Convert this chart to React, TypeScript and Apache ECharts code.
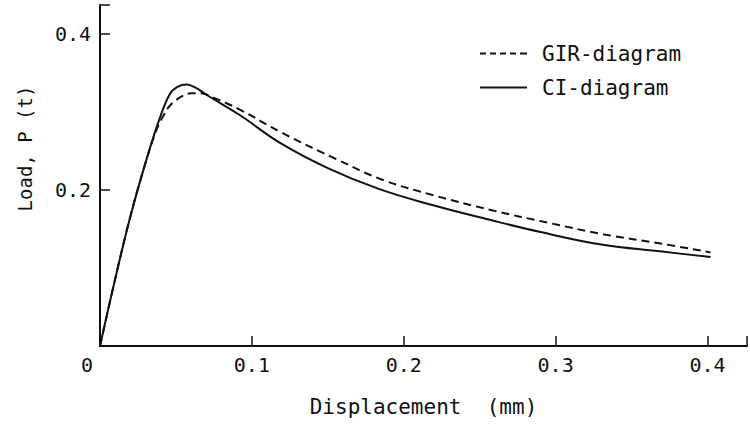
import React, { useEffect, useRef } from "react";
import * as echarts from "echarts";

// GIR-diagram curve: displacement (mm) and load (t)
const girDisp = [0, 0.01, 0.02, 0.03, 0.037, 0.042, 0.046, 0.05, 0.055, 0.06, 0.066, 0.075, 0.092, 0.12, 0.155, 0.186, 0.22, 0.258, 0.295, 0.332, 0.37, 0.402];
const girLoad = [0, 0.086, 0.166, 0.235, 0.276, 0.296, 0.308, 0.315, 0.321, 0.324, 0.324, 0.318, 0.303, 0.273, 0.24, 0.213, 0.193, 0.174, 0.158, 0.143, 0.131, 0.12];

// CI-diagram curve
const ciDisp = [0, 0.01, 0.02, 0.03, 0.039, 0.046, 0.051, 0.057, 0.063, 0.07, 0.092, 0.118, 0.15, 0.184, 0.22, 0.256, 0.29, 0.33, 0.37, 0.402];
const ciLoad = [0, 0.086, 0.166, 0.235, 0.29, 0.323, 0.332, 0.335, 0.331, 0.322, 0.296, 0.261, 0.228, 0.201, 0.18, 0.162, 0.146, 0.13, 0.121, 0.114];

const seriesNames = ["GIR-diagram", "CI-diagram"];
const xTicks = [0, 0.1, 0.2, 0.3, 0.4];
const yTicks = [0.2, 0.4];

const FONT = "DejaVu Sans Mono";

// Legend keys drawn as short line segments (dashed and solid)
const DASH_ICON = "path://M0,0h6v2h-6z M10,0h6v2h-6z M20,0h6v2h-6z M30,0h6v2h-6z M40,0h7v2h-7z";
const SOLID_ICON = "path://M0,0h47v2h-47z";

function pairs(xs: number[], ys: number[]) {
  return xs.map((x, i) => [x, ys[i]]);
}

export default function App() {
  const ref = useRef<HTMLDivElement>(null);

  useEffect(() => {
    if (!ref.current) return;
    const chart = echarts.init(ref.current, undefined, { renderer: "svg" });
    chart.setOption({
      animation: false,
      backgroundColor: "#ffffff",
      grid: { left: 100, right: 0, top: 5, bottom: 79 },
      legend: {
        orient: "vertical",
        left: 475,
        top: 38,
        itemWidth: 47,
        itemHeight: 2,
        itemGap: 13,
        data: [
          { name: seriesNames[0], icon: DASH_ICON },
          { name: seriesNames[1], icon: SOLID_ICON },
        ],
        itemStyle: { color: "#111", borderWidth: 0 },
        textStyle: {
          fontFamily: FONT,
          fontSize: 21,
          color: "#111",
          padding: [0, 0, 0, 10],
        },
      },
      xAxis: {
        type: "value",
        min: 0,
        max: 0.426,
        interval: 0.1,
        name: "Displacement  (mm)",
        nameLocation: "middle",
        nameGap: 50,
        nameTextStyle: { fontFamily: FONT, fontSize: 21, color: "#111" },
        axisLine: { show: true, lineStyle: { color: "#111", width: 2 } },
        axisTick: { show: true, inside: true, length: 10, lineStyle: { color: "#111", width: 1.5 } },
        splitLine: { show: false },
        axisLabel: {
          margin: 9,
          fontFamily: FONT,
          fontSize: 20,
          color: "#111",
          formatter: (v: number) => {
            const hit = xTicks.find((t) => Math.abs(t - v) < 1e-6);
            if (hit === undefined) return "";
            return hit === 0 ? "{z|0}" : String(hit);
          },
          rich: {
            z: { fontFamily: FONT, fontSize: 20, color: "#111", padding: [0, 26, 0, 0] },
          },
        },
      },
      yAxis: {
        type: "value",
        min: 0,
        max: 0.437,
        interval: 0.2,
        name: "Load, P (t)",
        nameLocation: "middle",
        nameRotate: 90,
        nameGap: 66,
        nameTextStyle: { fontFamily: FONT, fontSize: 19, color: "#111", padding: [0, 0, 0, 54] },
        axisLine: { show: true, lineStyle: { color: "#111", width: 2 } },
        axisTick: { show: true, inside: true, length: 10, lineStyle: { color: "#111", width: 1.5 } },
        splitLine: { show: false },
        axisLabel: {
          margin: 9,
          fontFamily: FONT,
          fontSize: 20,
          color: "#111",
          formatter: (v: number) => {
            const hit = yTicks.find((t) => Math.abs(t - v) < 1e-6);
            return hit === undefined ? "" : String(hit);
          },
        },
      },
      series: [
        {
          name: seriesNames[0],
          type: "line",
          data: pairs(girDisp, girLoad),
          smooth: 0.4,
          showSymbol: false,
          symbol: "none",
          lineStyle: { color: "#111", width: 2, type: [8, 5] },
          itemStyle: { color: "#111" },
        },
        {
          name: seriesNames[1],
          type: "line",
          data: pairs(ciDisp, ciLoad),
          smooth: 0.4,
          showSymbol: false,
          symbol: "none",
          lineStyle: { color: "#111", width: 2 },
          itemStyle: { color: "#111" },
        },
      ],
    });
    return () => chart.dispose();
  }, []);

  return (
    <div
      ref={ref}
      style={{ position: "absolute", left: 0, top: 0, width: 750, height: 425 }}
    />
  );
}
